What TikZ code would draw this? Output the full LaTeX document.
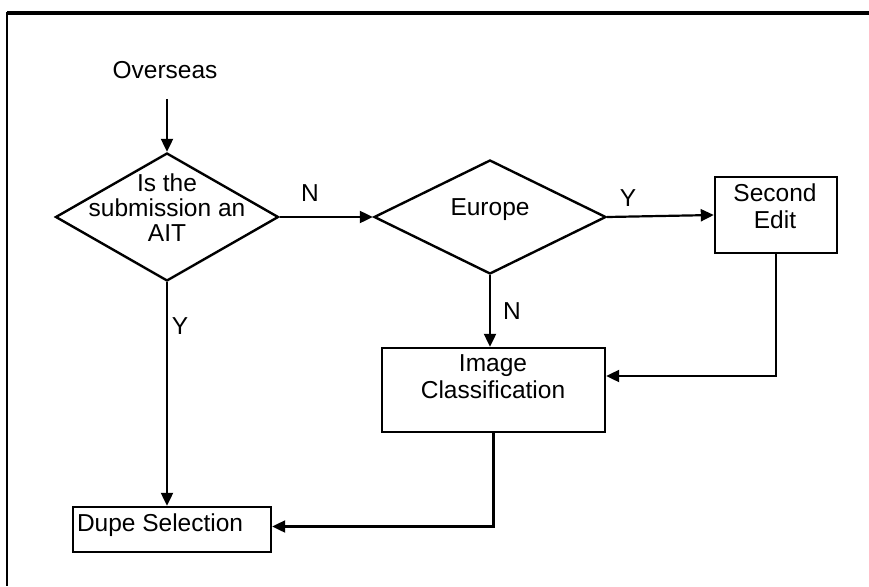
\documentclass[tikz,border=0pt]{standalone}
\usepackage{fontspec}
\setmainfont{Liberation Sans}
\usetikzlibrary{shapes.geometric,arrows.meta}
\begin{document}
\begin{tikzpicture}[x=1pt,y=-1pt,
  txt/.style={font=\fontsize{24.5}{27}\selectfont, inner sep=0pt, align=center},
  dtxt/.style={font=\fontsize{24.5}{25}\selectfont, inner sep=0pt, align=center},
  decision/.style={draw, line width=2.4pt, diamond, inner sep=0pt},
  stepbox/.style={draw, line width=2.4pt, rectangle, inner sep=0pt},
  arr/.style={line width=2.2pt, -{Triangle[length=13pt,width=12pt]}},
  lbl/.style={font=\fontsize{24.5}{27}\selectfont, inner sep=0pt}]
\useasboundingbox (0,0) rectangle (869,586);
% page frame
\draw[line width=4pt] (7,13) -- (869,13);
\draw[line width=2.4pt] (7,12) -- (7,586);

% nodes
\node[txt] (over) at (165,70) {Overseas};
\node[decision, minimum width=223pt, minimum height=128pt] (q1) at (167,217) {};
\node[dtxt] (q1t) at (167,208) {Is the\\submission an\\AIT};
\node[decision, minimum width=232pt, minimum height=114pt] (eu) at (490,217) {};
\node[txt] (eut) at (490,210) {Europe};
\node[stepbox, minimum width=122pt, minimum height=76pt] (se) at (776,215) {};
\node[txt] (set) at (775,206) {Second\\Edit};
\node[stepbox, minimum width=223pt, minimum height=84pt] (ic) at (493.5,390) {};
\node[txt] (ict) at (493,377) {Image\\Classification};
\node[stepbox, minimum width=198pt, minimum height=45pt] (ds) at (172,529.5) {};
\node[txt, anchor=base west] (dst) at ([xshift=5pt,yshift=-1.5pt]ds.west) {Dupe Selection};

% connectors
\draw[arr] ([yshift=-20pt]over.south -| q1.north) -- (q1.north);
\draw[arr] (q1.east) -- (eu.west);
\draw[arr] (eu.east) -- (se.west);
\draw[arr] (eu.south) -- (eu.south |- ic.north);
\draw[arr] (se.south) |- ([yshift=14pt]ic.east);
\draw[arr] (ic.south) |- ([yshift=3pt]ds.east);
\draw[arr] (q1.south) -- (q1.south |- ds.north);

% branch labels
\node[lbl] (ln1) at (310,193) {N};
\node[lbl] (ly1) at (628,198) {Y};
\node[lbl] (ln2) at (512,311) {N};
\node[lbl] (ly2) at (180,326) {Y};
\end{tikzpicture}
\end{document}
